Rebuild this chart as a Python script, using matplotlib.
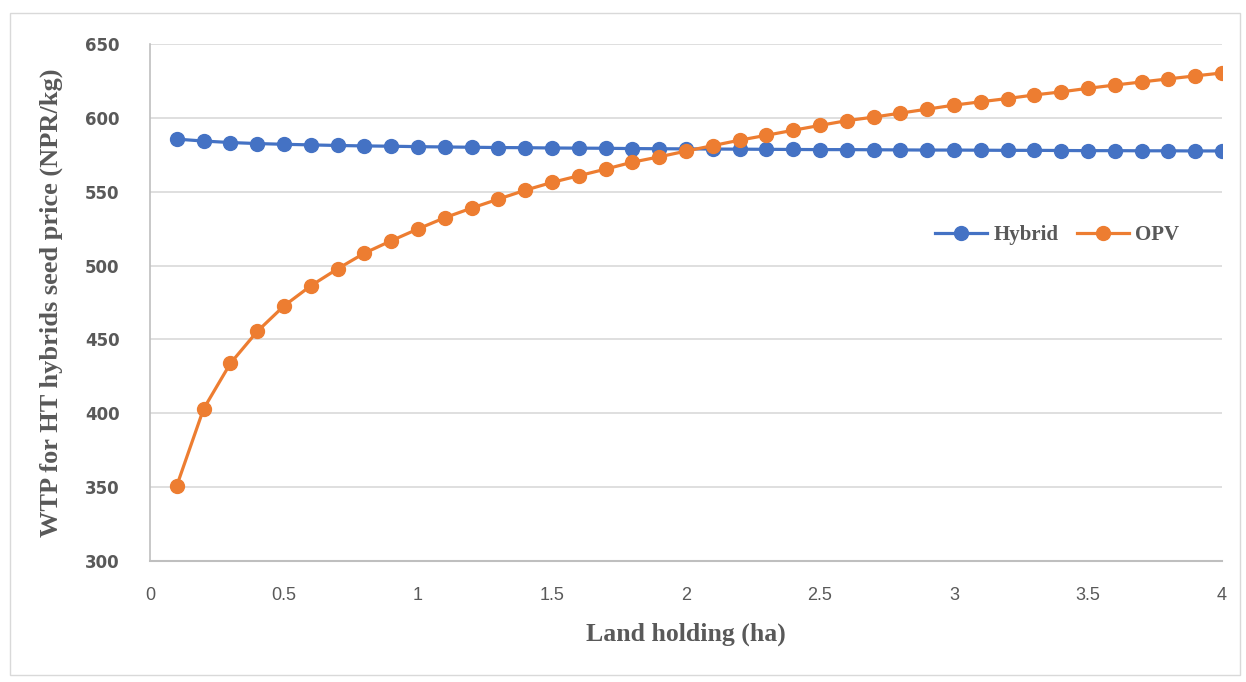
import matplotlib
matplotlib.use('Agg')
import matplotlib.pyplot as plt
import numpy as np
from matplotlib.patches import Rectangle

# Land holding (ha)
land = [round(0.1 * i, 1) for i in range(1, 41)]

hybrid = [585.6, 584.3, 583.3, 582.6, 582.1, 581.7, 581.3, 581.0, 580.8, 580.5,
          580.3, 580.1, 579.9, 579.8, 579.6, 579.5, 579.4, 579.2, 579.1, 579.0,
          578.9, 578.8, 578.7, 578.6, 578.5, 578.5, 578.4, 578.3, 578.2, 578.2,
          578.1, 578.0, 578.0, 577.9, 577.8, 577.8, 577.7, 577.7, 577.6, 577.6]

opv = [351.0, 403.0, 433.8, 455.4, 472.7, 486.3, 497.8, 508.4, 516.8, 524.8,
       532.4, 538.9, 545.0, 551.0, 556.3, 560.8, 565.3, 570.0, 573.6, 577.5,
       581.2, 584.9, 588.2, 591.6, 594.9, 598.1, 600.5, 603.2, 605.9, 608.6,
       610.9, 613.1, 615.5, 617.6, 620.0, 622.2, 624.3, 626.4, 628.4, 630.4]

xticks = [0, 0.5, 1, 1.5, 2, 2.5, 3, 3.5, 4]
xticklabels = ['0', '0.5', '1', '1.5', '2', '2.5', '3', '3.5', '4']
yticks = [300, 350, 400, 450, 500, 550, 600, 650]

fig = plt.figure(figsize=(12.46, 6.82), dpi=100)
fig.patches.append(Rectangle((10/1246, 1 - 675/682), 1230/1246, 662/682,
                             transform=fig.transFigure, fill=False,
                             edgecolor='#d9d9d9', linewidth=1))
ax = fig.add_axes([150/1246, 1 - 561/682, 1072/1246, 517/682])

ax.plot(land, hybrid, color='#4472C4', lw=2.3, marker='o', ms=10,
        label='Hybrid', zorder=3)
ax.plot(land, opv, color='#ED7D31', lw=2.3, marker='o', ms=10,
        label='OPV', zorder=4)

ax.set_xlim(0, 4)
ax.set_ylim(300, 650)
ax.set_xticks(xticks)
ax.set_xticklabels(xticklabels, fontsize=13, color='#595959',
                   family='Liberation Sans')
ax.set_yticks(yticks)
ax.set_yticklabels([str(v) for v in yticks], fontsize=12, color='#595959',
                   fontweight='bold', family='DejaVu Sans')
ax.tick_params(axis='x', length=0, pad=19)
ax.tick_params(axis='y', length=0, pad=22)

ax.grid(axis='y', color='#d9d9d9', lw=1.2)
ax.set_axisbelow(True)
for s in ['top', 'right']:
    ax.spines[s].set_visible(False)
ax.spines['left'].set_color('#bfbfbf')
ax.spines['bottom'].set_color('#bfbfbf')
ax.spines['left'].set_linewidth(1.2)
ax.spines['bottom'].set_linewidth(1.5)

ax.set_xlabel('Land holding (ha)', fontsize=18.5, fontweight='bold',
              family='Liberation Serif', color='#595959', labelpad=13)
ax.set_ylabel('WTP for HT hybrids seed price (NPR/kg)', fontsize=19,
              fontweight='bold', family='Liberation Serif', color='#595959',
              labelpad=16)

leg = ax.legend(loc='center right', bbox_to_anchor=(0.968, 0.63), ncol=2,
                frameon=False, handlelength=2.5, columnspacing=0.9,
                handletextpad=0.3, borderaxespad=0,
                prop={'family': 'Liberation Serif', 'weight': 'bold', 'size': 15})
for t in leg.get_texts():
    t.set_color('#595959')

fig.savefig('out.png', dpi=100)
